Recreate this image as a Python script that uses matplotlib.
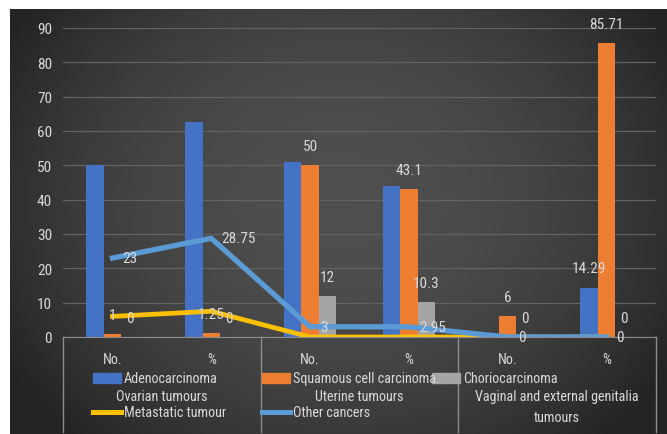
import numpy as np
import matplotlib
matplotlib.use("Agg")
import matplotlib.pyplot as plt
from matplotlib.patches import Rectangle
from matplotlib.lines import Line2D

# data
categories = ["No.", "%", "No.", "%", "No.", "%"]
groups = ["Ovarian tumours", "Uterine tumours", "Vaginal and external genitalia\ntumours"]
adeno = [50, 62.5, 51, 44, 0, 14.29]
squamous = [1, 1.25, 50, 43.1, 6, 85.71]
chorio = [0, 0, 12, 10.3, 0, 0]
metastatic = [6, 7.5, 0, 0, 0, 0]
other = [23, 28.75, 3, 2.95, 0, 0]
adeno_labelled = [5]  # only this blue bar carries a label

plt.rcParams['font.family'] = ['Roboto Condensed', 'Carlito', 'DejaVu Sans']

BLUE = "#4472C4"
ORANGE = "#ED7D31"
GRAY = "#A5A5A5"
YELLOW = "#FFC000"
LBLUE = "#5B9BD5"
TXT = "#d9d9d9"
EDGE = "#8c8c8c"
FS = 11     # numbers
FS_T = 10.2  # table / legend text

W, H = 667, 435
fig = plt.figure(figsize=(W / 100, H / 100), dpi=100)
fig.patch.set_facecolor("white")

def P(px, py):
    return px / W, 1 - py / H

# dark gradient background of the chart area
bg = fig.add_axes([10 / W, 0, 1 - 10 / W, 1 - 10 / H])
bg.axis("off")
yy, xx = np.mgrid[0:200, 0:300]
r = np.sqrt(((xx - 150) / 170.0) ** 2 + ((yy - 90) / 150.0) ** 2)
shade = np.clip(0.31 - 0.16 * r ** 2, 0.14, 0.31)
bg.imshow(np.dstack([shade] * 3), aspect="auto", extent=[0, 1, 0, 1], interpolation="bilinear")
bg.set_xlim(0, 1)
bg.set_ylim(0, 1)

x0, x1, yt, yb = 63, 656, 29, 338
ax = fig.add_axes([x0 / W, 1 - yb / H, (x1 - x0) / W, (yb - yt) / H])
ax.patch.set_alpha(0)

x = np.arange(len(categories))
bw = 0.177
ax.bar(x - bw, adeno, bw, color=BLUE, zorder=2)
ax.bar(x, squamous, bw, color=ORANGE, zorder=2)
ax.bar(x + bw, chorio, bw, color=GRAY, zorder=2)
ax.plot(x, metastatic, color=YELLOW, lw=3.4, zorder=3, solid_joinstyle="round")
ax.plot(x, other, color=LBLUE, lw=3.8, zorder=4, solid_joinstyle="round")

ax.set_xlim(-0.5, len(categories) - 0.5)
ax.set_ylim(0, 90)
ax.set_yticks(range(0, 91, 10))
ax.grid(axis="y", color="#626262", lw=0.9, zorder=0)
ax.tick_params(axis="y", length=0, pad=8, labelsize=FS, labelcolor=TXT)
for s in ["left", "right", "top"]:
    ax.spines[s].set_visible(False)
ax.spines["bottom"].set_color(EDGE)
ax.set_xticks(x, categories)
ax.tick_params(axis="x", length=0, pad=11, labelsize=FS_T, labelcolor=TXT)

lab = dict(color=TXT, fontsize=FS, textcoords="offset pixels", va="center", zorder=5)
for i in adeno_labelled:
    ax.annotate(f"{adeno[i]:g}", (x[i] - bw, adeno[i]), xytext=(0, 20), ha="center", **lab)
for i, v in enumerate(squamous):
    ax.annotate(f"{v:g}", (x[i], v), xytext=(0, 19), ha="center", **lab)
for i, v in enumerate(chorio):
    ax.annotate(f"{v:g}", (x[i] + bw, v), xytext=(0, 19), ha="center", **lab)
for i, v in enumerate(other):
    ax.annotate(f"{v:g}", (x[i], v), xytext=(10, 0), ha="left", **lab)

# category table below the axis
tr = ax.get_xaxis_transform()
bottom = -(433 - yb) / (yb - yt)
for g in range(len(groups) + 1):
    ax.plot([2 * g - 0.5] * 2, [0, bottom], color=EDGE, lw=1, transform=tr, clip_on=False)
for g, name in enumerate(groups):
    ax.text(2 * g + 0.5, -(390 - yb) / (yb - yt), name, transform=tr, ha="center", va="top",
            color=TXT, fontsize=FS_T, linespacing=1.6)

# legend drawn inline, the way the chart shows it
entries = [
    ("Adenocarcinoma", BLUE, "bar", 93, 379),
    ("Squamous cell carcinoma.", ORANGE, "bar", 262, 379),
    ("Choriocarcinoma", GRAY, "bar", 432, 379),
    ("Metastatic tumour", YELLOW, "line", 93, 413),
    ("Other cancers", LBLUE, "line", 262, 413),
]
for name, col, kind, px, py in entries:
    if kind == "bar":
        fx, fy = P(px, py + 5)
        fig.patches.append(Rectangle((fx, fy), 28 / W, 10 / H, color=col, transform=fig.transFigure))
    else:
        fig.lines.append(Line2D([px / W, (px + 28) / W], [1 - py / H] * 2, color=col, lw=3.6,
                                transform=fig.transFigure))
    tx, ty = P(px + 31, py)
    fig.text(tx, ty, name, color=TXT, fontsize=FS_T, ha="left", va="center")

fig.savefig("out.png", dpi=100)
